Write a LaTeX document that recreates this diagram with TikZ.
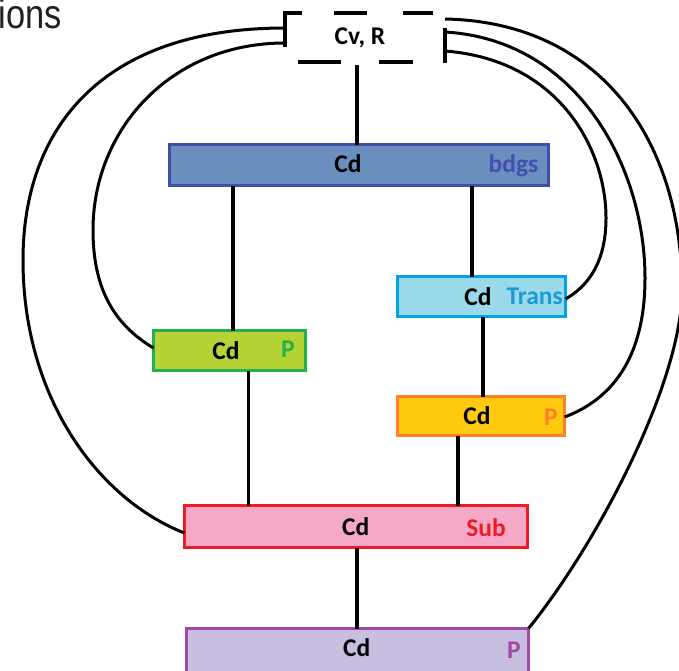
\documentclass[tikz,border=0pt]{standalone}
\usepackage{fontspec}
\setmainfont{Carlito}
\newfontfamily\ionsfont[FakeStretch=0.84]{Liberation Sans}
\usetikzlibrary{calc}
\definecolor{bdgsF}{RGB}{106,142,190}
\definecolor{bdgsB}{RGB}{63,79,168}
\definecolor{bdgsT}{RGB}{67,80,176}
\definecolor{grnF}{RGB}{181,211,52}
\definecolor{grnB}{RGB}{34,177,76}
\definecolor{trF}{RGB}{153,217,234}
\definecolor{trB}{RGB}{0,162,232}
\definecolor{trT}{RGB}{27,154,214}
\definecolor{orF}{RGB}{255,201,14}
\definecolor{orB}{RGB}{255,127,39}
\definecolor{sbF}{RGB}{245,168,200}
\definecolor{sbB}{RGB}{237,28,36}
\definecolor{puF}{RGB}{200,191,224}
\definecolor{puB}{RGB}{163,73,164}
\definecolor{ionsC}{RGB}{35,31,32}
\begin{document}
\begin{tikzpicture}[x=1pt,y=-1pt,
  box/.style={draw, line width=3.3pt, inner sep=0pt, outer sep=0pt},
  lab/.style={font=\fontsize{25.5}{25.5}\selectfont\bfseries, inner sep=0pt, anchor=base},
  labr/.style={font=\fontsize{25.5}{25.5}\selectfont\bfseries, inner sep=0pt, anchor=base east},
  conn/.style={line width=3.3pt, black},
  curv/.style={line width=3pt, black},
  dashseg/.style={line width=3.3pt, black}]
\useasboundingbox (0,0) rectangle (679,670);
\clip (0,0) rectangle (679,670);
\fill[white] (0,0) rectangle (679,670);

% partial heading
\node[font=\ionsfont\fontsize{41}{41}\selectfont, text=ionsC, inner sep=0pt, anchor=base west] (ions) at (-1.5,28) {ions};

% boxes
\node[box, draw=bdgsB, fill=bdgsF, minimum width=379pt, minimum height=41pt] (bdgs) at (359,165) {};
\node[box, draw=grnB, fill=grnF, minimum width=152pt, minimum height=40pt] (green) at (229.5,350.5) {};
\node[box, draw=trB, fill=trF, minimum width=168pt, minimum height=40pt] (trans) at (481.5,296.5) {};
\node[box, draw=orB, fill=orF, minimum width=167pt, minimum height=39pt] (orange) at (481,416) {};
\node[box, draw=sbB, fill=sbF, minimum width=343pt, minimum height=42pt] (sub) at (356,526.5) {};
\node[box, draw=puB, fill=puF, minimum width=342pt, minimum height=46pt] (purple) at (357.5,651.5) {};

% labels
\node[lab] (cvr) at (360,44.3) {Cv, R};
\node[lab] (bdgsCd) at (348,172.7) {Cd};
\node[labr, text=bdgsT] (bdgsL) at (538.5,172.7) {bdgs};
\node[lab] (greenCd) at (226,359.5) {Cd};
\node[labr, text=grnB] (greenL) at (295,357.7) {P};
\node[lab] (transCd) at (478,305) {Cd};
\node[labr, text=trT] (transL) at (563,304.5) {Trans};
\node[lab] (orangeCd) at (477,424) {Cd};
\node[labr, text=orB] (orangeL) at (558,425.5) {P};
\node[lab] (subCd) at (355.7,535) {Cd};
\node[labr, text=sbB] (subL) at (506,536) {Sub};
\node[lab] (purpleCd) at (356.7,656.7) {Cd};
\node[labr, text=puB] (purpleL) at (521,658) {P};

% dashed frame around Cv, R
\draw[dashseg] (285,47) -- (285,13) -- (302,13);
\draw[dashseg] (334,13) -- (367,13);
\draw[dashseg] (403,13) -- (433,13);
\draw[dashseg] (445,28) -- (445,63);
\draw[dashseg] (298,62) -- (341,62);
\draw[dashseg] (379,62) -- (413,62);

% connection points on the frame
\coordinate (cvrb) at (357,65);
\coordinate (cl1) at (285,28);
\coordinate (cl2) at (285,43);
\coordinate (cr1) at (445,19);
\coordinate (cr2) at (445,32);
\coordinate (cr3) at (445,51);

% vertical connectors
\draw[conn] (cvrb) -- (cvrb |- bdgs.north);
\draw[conn] ([xshift=3.5pt]green.north) -- ([xshift=3.5pt]green.north |- bdgs.south);
\draw[conn] ([xshift=-9.5pt]trans.north) -- ([xshift=-9.5pt]trans.north |- bdgs.south);
\draw[conn] ([xshift=1.5pt]trans.south) -- ([xshift=1.5pt]trans.south |- orange.north);
\draw[conn] ([xshift=19pt]green.south) -- ([xshift=19pt]green.south |- sub.north);
\draw[conn] ([xshift=-23pt]orange.south) -- ([xshift=-23pt]orange.south |- sub.north);
\draw[conn] ([xshift=1pt]sub.south) -- ([xshift=1pt]sub.south |- purple.north);

% curved connectors
\draw[curv] (cl1) .. controls (100,28) and (23,130) .. (23,260)
  .. controls (23,400) and (100,500) .. ([yshift=-6.5pt]sub.west);
\draw[curv] (cl2) .. controls (170,43) and (93,130) .. (93,230)
  .. controls (93,290) and (115,325) .. ([yshift=2.5pt]green.west);
\draw[curv] (cr3) .. controls (560,60) and (606,150) .. (606,218)
  .. controls (606,260) and (590,285) .. ([yshift=-2.5pt]trans.east);
\draw[curv] (cr2) .. controls (580,40) and (645,170) .. (645,278)
  .. controls (645,360) and (610,400) .. ([yshift=-1pt]orange.east);
\draw[curv] (cr1) .. controls (600,22) and (682,140) .. (682,290)
  .. controls (682,380) and (600,540) .. (purple.north east);
\end{tikzpicture}
\end{document}
